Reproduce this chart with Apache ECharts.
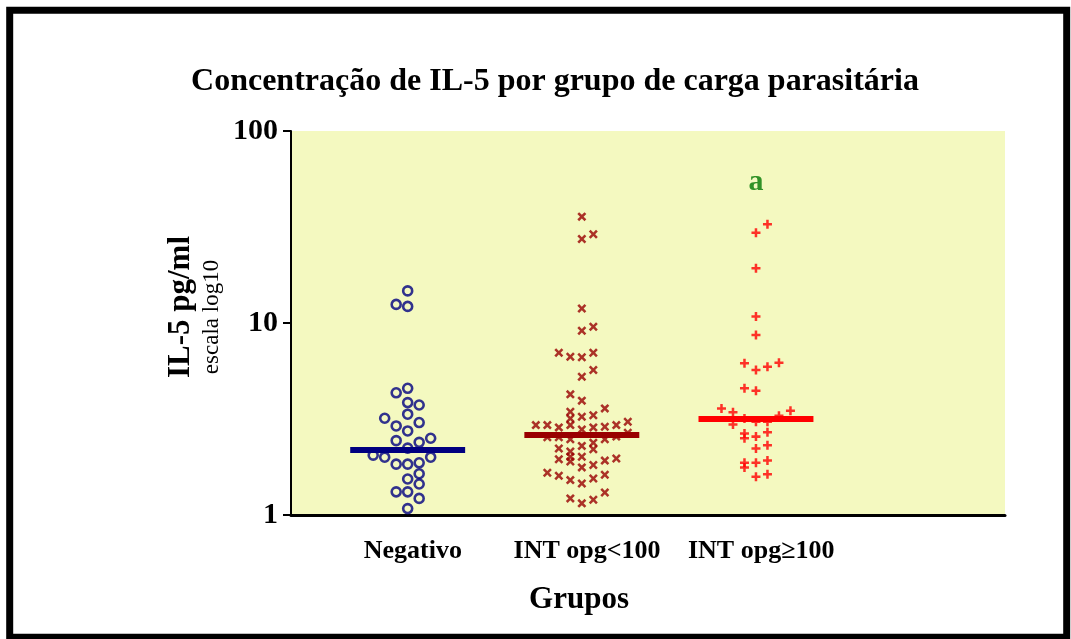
<!DOCTYPE html>
<html>
<head>
<meta charset="utf-8">
<script src="https://cdn.jsdelivr.net/npm/echarts@6/dist/echarts.min.js"></script>
<style>
html,body{margin:0;padding:0;background:#fff;}
#chart{width:1071px;height:639px;}
</style>
</head>
<body>
<div id="chart"></div>
<script>
// ---- data ----
const groups = ['Negativo', 'INT opg<100', 'INT opg\u2265100'];
const yTicks = [1, 10, 100];
// beeswarm column index of each point (horizontal jitter slot) and value (pg/ml)
const negCols = [0,-1,0,0,-1,0,1,-2,0,-1,1,0,-1,1,2,0,-3,-2,2,-1,0,1,1,0,1,-1,0,1,0];
const negVals = [14.7,12.5,12.2,4.57,4.33,3.85,3.74,3.19,3.35,2.91,3.03,2.74,2.44,2.39,2.51,2.23,2.05,2.0,2.0,1.84,1.84,1.87,1.64,1.54,1.45,1.32,1.32,1.22,1.08];
const lowCols = [0,0,1,0,0,1,-2,-1,0,1,1,0,-1,0,2,-1,0,1,-1,
  -4,-3,-2,-1,0,1,2,3,4,
  -3,-2,-1,2,3,4,
  -2,-1,0,1,1,-2,-1,-1,0,0,1,2,3,-3,-2,-1,0,1,2,-1,0,1,2];
const lowVals = [35.8,27.4,29.0,11.9,9.12,9.56,7.0,6.67,6.63,7.0,5.69,5.25,4.25,3.94,3.59,3.45,3.25,3.31,3.18,
  2.94,2.94,2.86,2.94,2.79,2.86,2.88,2.94,3.06,
  2.54,2.54,2.48,2.48,2.56,2.68,
  2.22,2.14,2.29,2.38,2.2,1.95,2.01,1.9,2.01,1.77,1.82,1.92,1.97,1.66,1.6,1.52,1.46,1.55,1.62,1.22,1.15,1.2,1.31];
const highCols = [1,0,0,0,0,-1,0,1,2,-1,0,-3,-2,3,-1,0,1,2,-2,-1,-1,0,1,0,1,-1,-1,0,1,0,1];
const highVals = [32.7,29.5,19.3,10.8,8.66,6.17,5.69,5.92,6.21,4.57,4.44,3.59,3.43,3.49,3.18,3.06,3.06,3.29,2.96,2.66,2.51,2.56,2.7,2.22,2.31,1.87,1.77,1.87,1.92,1.58,1.63];
const medians = [2.2, 2.61, 3.17];
const annotations = [{ group: 3, value: 54, text: 'a' }];

// ---- layout / style ----
const STEP = 0.066;      // jitter slot width in x-axis units
const HALF = 0.33;       // half length of the median bar
const SERIF = '"Liberation Serif","Times New Roman",serif';
const colors = ['#000080', '#990000', '#ff0000'];
const xSym = 'path://M0,2L2,0L5,3L8,0L10,2L7,5L10,8L8,10L5,7L2,10L0,8L3,5Z';
const plusSym = 'path://M3.6,0H6.4V3.6H10V6.4H6.4V10H3.6V6.4H0V3.6H3.6Z';

function pts(g, cols, vals) { return vals.map((v, i) => [g + cols[i] * STEP, v]); }
function median(g, m, color) {
  return {
    silent: true, symbol: ['none', 'none'], label: { show: false },
    lineStyle: { color: color, width: 6, type: 'solid' },
    data: [[{ coord: [g - HALF, m] }, { coord: [g + HALF, m] }]]
  };
}

const chart = echarts.init(document.getElementById('chart'), null, { renderer: 'canvas' });
chart.setOption({
  animation: false,
  backgroundColor: '#ffffff',
  grid: { left: 291, right: 66, top: 131, bottom: 124, show: true, backgroundColor: '#f4f9c0', borderWidth: 0 },
  xAxis: {
    type: 'value', min: 0.33, max: 4.43,
    axisLine: { show: true, lineStyle: { color: '#000', width: 3 } },
    axisTick: { show: false },
    splitLine: { show: false },
    axisLabel: {
      customValues: [1.03, 2.03, 3.03],
      formatter: v => groups[Math.round(v) - 1] || '',
      fontFamily: SERIF, fontWeight: 'bold', fontSize: 26, color: '#000', margin: 23
    }
  },
  yAxis: {
    type: 'log', logBase: 10, min: 1, max: 100,
    axisLine: { show: true, lineStyle: { color: '#000', width: 2 } },
    axisTick: { show: true, length: 8, lineStyle: { color: '#000', width: 2 } },
    minorTick: { show: false },
    splitLine: { show: false },
    axisLabel: {
      formatter: v => yTicks.indexOf(Math.round(v)) >= 0 ? String(Math.round(v)) : '',
      fontFamily: SERIF, fontWeight: 'bold', fontSize: 30, color: '#000', margin: 13
    }
  },
  series: [
    {
      type: 'scatter', data: pts(1, negCols, negVals), symbol: 'circle', symbolSize: 9,
      itemStyle: { color: 'rgba(0,0,0,0)', borderColor: colors[0], borderWidth: 2.6 },
      markLine: median(1, medians[0], colors[0]), z: 3
    },
    {
      type: 'scatter', data: pts(2, lowCols, lowVals), symbol: xSym, symbolSize: 9,
      itemStyle: { color: colors[1] },
      markLine: median(2, medians[1], colors[1]), z: 3
    },
    {
      type: 'scatter', data: pts(3, highCols, highVals), symbol: plusSym, symbolSize: 9,
      itemStyle: { color: colors[2] },
      markLine: median(3, medians[2], colors[2]), z: 3
    },
    {
      type: 'scatter', symbolSize: 1, itemStyle: { color: 'rgba(0,0,0,0)' },
      data: annotations.map(a => ({ value: [a.group, a.value], name: a.text })),
      label: { show: true, position: 'inside', formatter: p => p.name,
        fontFamily: SERIF, fontWeight: 'bold', fontSize: 30, color: '#007800' },
      silent: true
    }
  ],
  graphic: [
    { type: 'rect', silent: true, z: 100,
      shape: { x: 9.7, y: 10.3, width: 1057, height: 627 },
      style: { fill: 'none', stroke: '#000', lineWidth: 7 } },
    { type: 'text', x: 555, y: 82, silent: true,
      style: { text: 'Concentração de IL-5 por grupo de carga parasitária', fill: '#000',
        font: 'bold 32px ' + SERIF, textAlign: 'center', textVerticalAlign: 'middle' } },
    { type: 'text', x: 579, y: 600, silent: true,
      style: { text: 'Grupos', fill: '#000', font: 'bold 31px ' + SERIF, textAlign: 'center', textVerticalAlign: 'middle' } },
    { type: 'text', x: 181, y: 307, rotation: Math.PI / 2, silent: true,
      style: { text: 'IL-5 pg/ml', fill: '#000', font: 'bold 31px ' + SERIF, textAlign: 'center', textVerticalAlign: 'middle' } },
    { type: 'text', x: 212, y: 317, rotation: Math.PI / 2, silent: true,
      style: { text: 'escala log10', fill: '#000', font: '23px ' + SERIF, textAlign: 'center', textVerticalAlign: 'middle' } }
  ]
});
</script>
</body>
</html>
